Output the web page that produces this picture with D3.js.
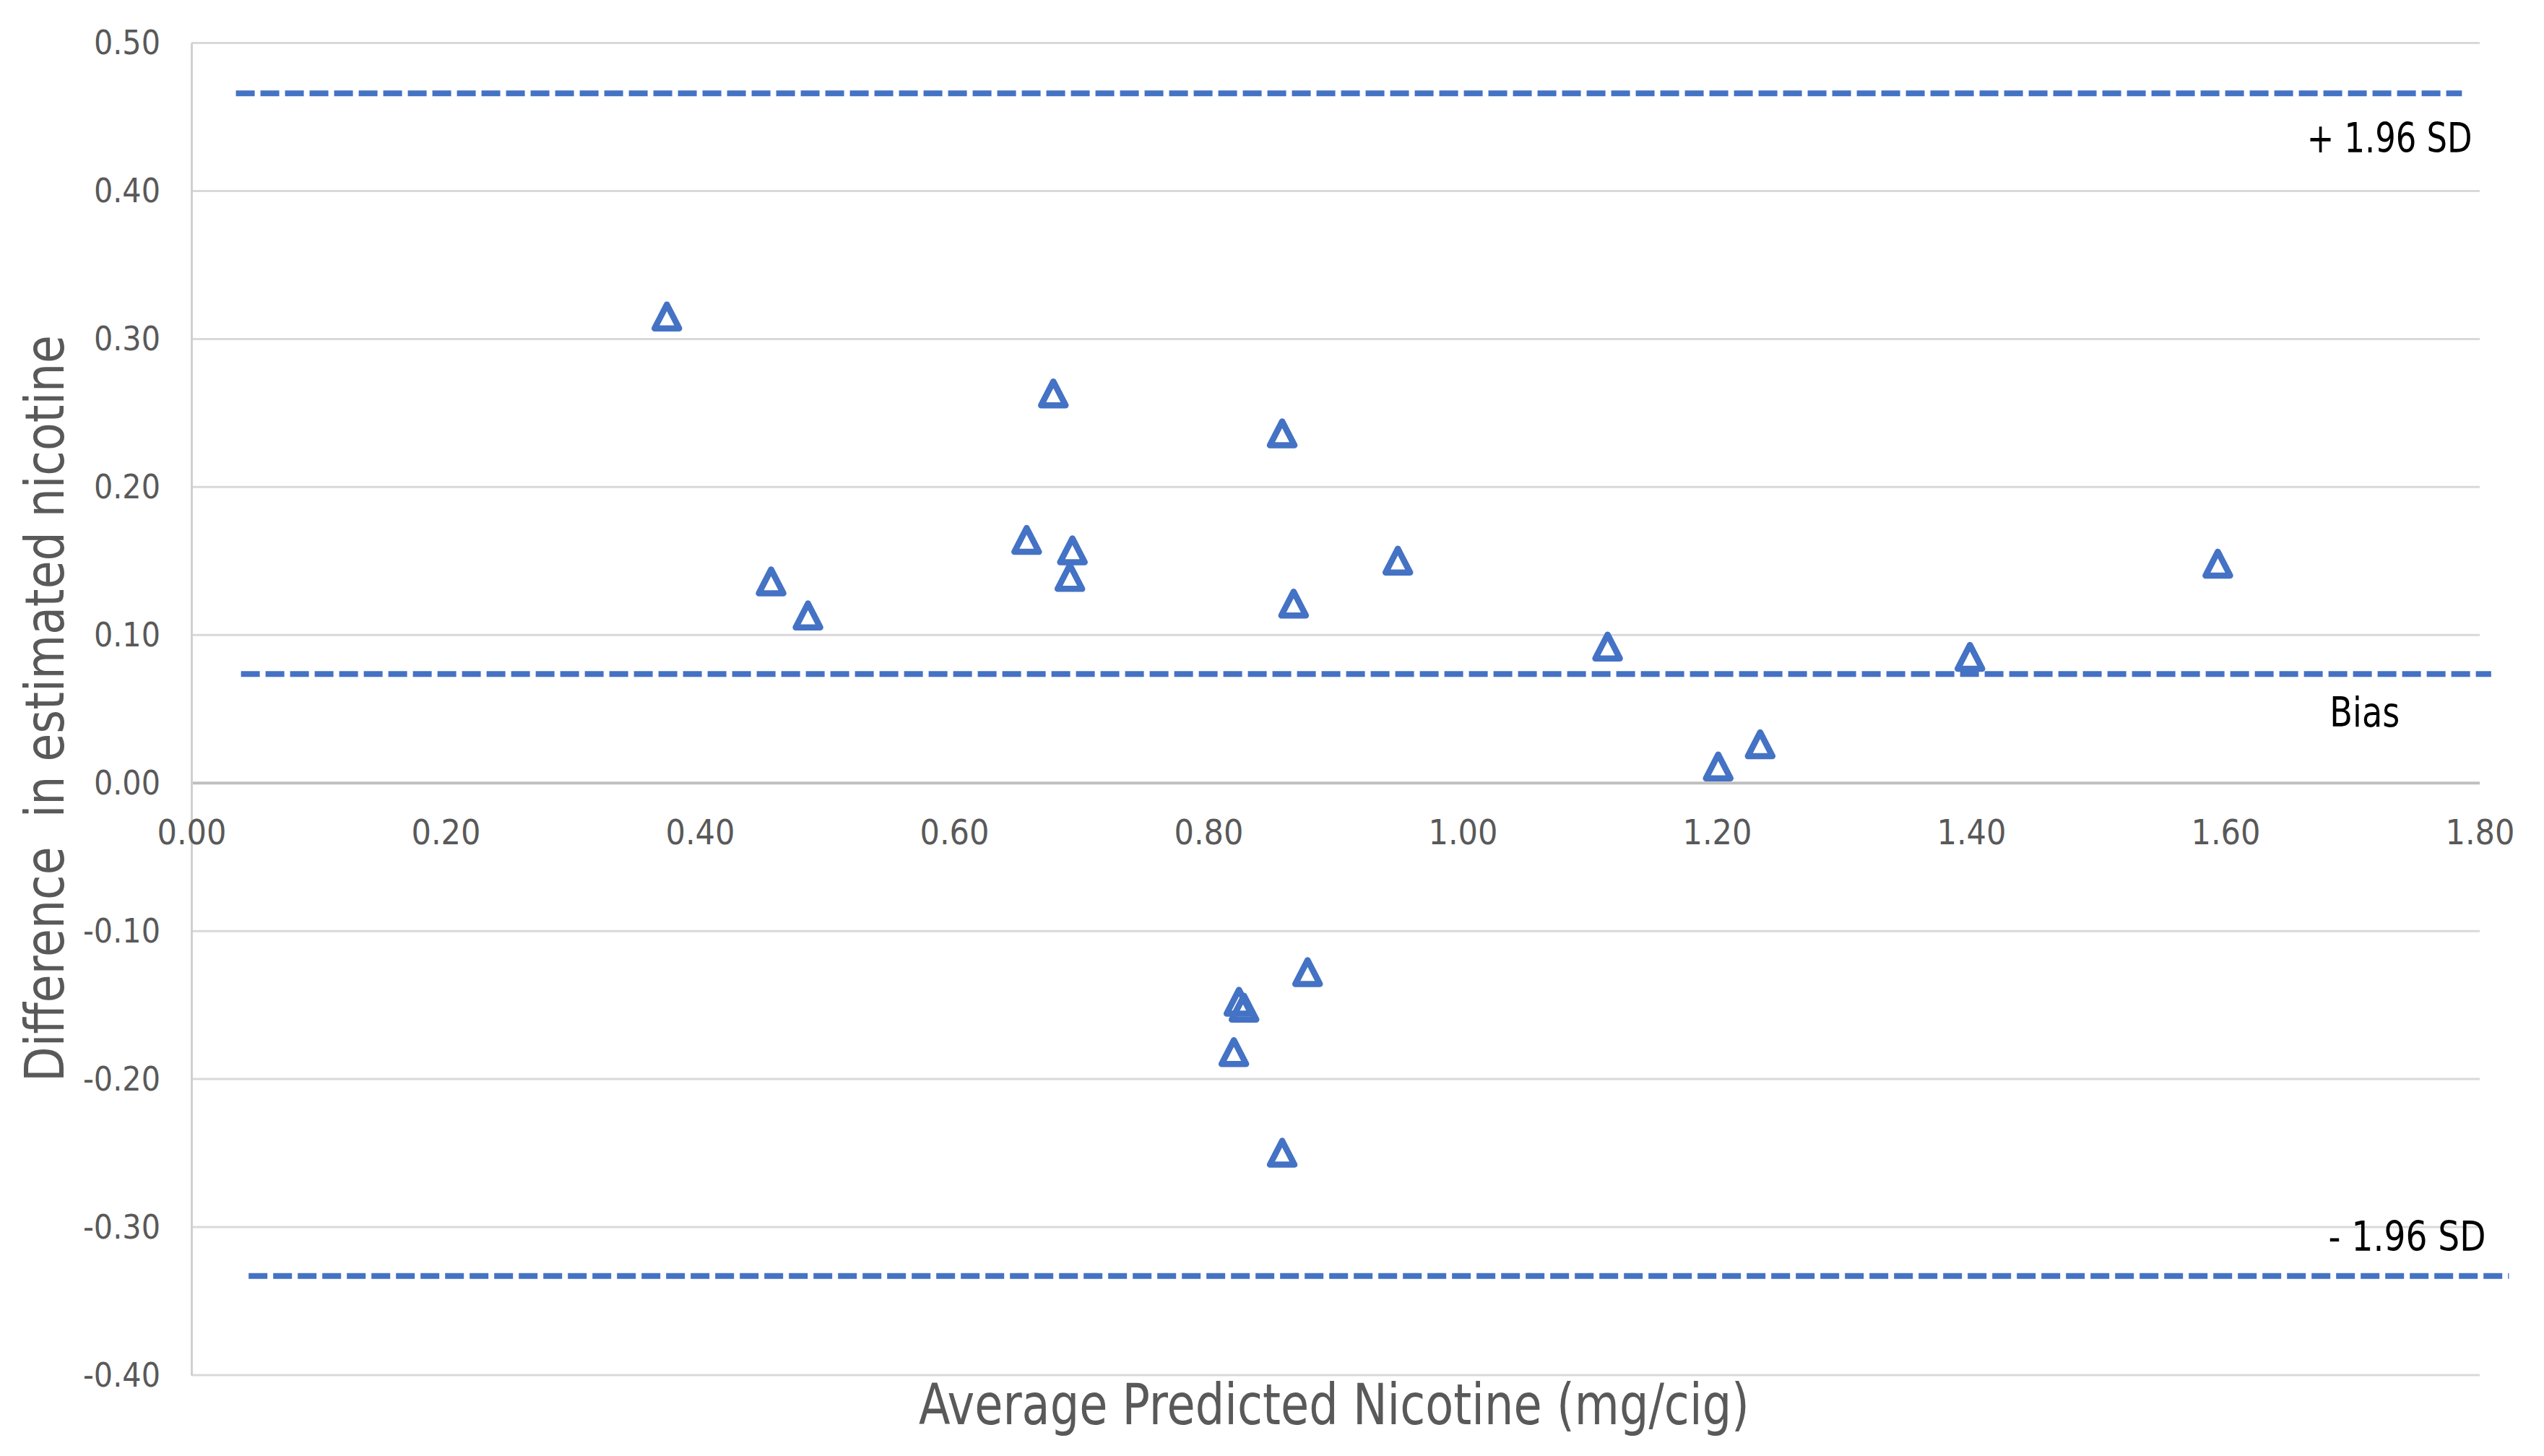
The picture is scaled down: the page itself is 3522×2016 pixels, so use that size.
<!DOCTYPE html>
<html>
<head>
<meta charset="utf-8">
<script src="https://cdn.jsdelivr.net/npm/d3@7"></script>
<style>
  html, body { margin: 0; padding: 0; background: #fff; }
  text { font-family: "Liberation Sans Narrow", "DejaVu Sans Condensed", "Open Sans", sans-serif; }
</style>
</head>
<body>
<svg id="chart" width="3522" height="2016"></svg>
<script>
// points
const avgNicotine = [0.374, 0.456, 0.485, 0.657, 0.678, 0.693, 0.691, 0.858, 0.867, 0.949,
                     1.114, 1.201, 1.234, 1.399, 1.594, 0.878, 0.824, 0.828, 0.820, 0.858]
const diffNicotine = [0.315, 0.136, 0.113, 0.164, 0.263, 0.157, 0.139, 0.236, 0.121, 0.150,
                      0.092, 0.011, 0.026, 0.085, 0.148, -0.128, -0.148, -0.152, -0.182, -0.250]

// limits of agreement (dashed lines)
const limitNames = ["+ 1.96 SD", "Bias", "- 1.96 SD"]
const limitValues = [0.466, 0.0737, -0.333]
const limitStart = [0.035, 0.039, 0.045]
const limitEnd = [1.786, 1.809, 1.823]
// where each label starts, in data units
const limitLabelX = [1.664, 1.682, 1.681]
const limitLabelY = [0.426, 0.038, -0.316]

const xTicks = [0, 0.2, 0.4, 0.6, 0.8, 1.0, 1.2, 1.4, 1.6, 1.8]
const yTicks = [0.5, 0.4, 0.3, 0.2, 0.1, 0, -0.1, -0.2, -0.3, -0.4]

const xTitle = "Average Predicted Nicotine (mg/cig)"
const yTitle = "Difference  in estimated nicotine"

const L = 265, R = 3433, T = 59.5, B = 1904
const blue = "#4472C4"

const svg = d3.select("#chart")
svg.append("rect").attr("width", 3522).attr("height", 2016).attr("fill", "#fff")

const x = d3.scaleLinear().domain([0, 1.8]).range([L, R])
const y = d3.scaleLinear().domain([-0.4, 0.5]).range([B, T])

// gridlines
const grid = svg.append("g")
grid.selectAll("line").data(yTicks).join("line")
  .attr("x1", L).attr("x2", R)
  .attr("y1", d => y(d)).attr("y2", d => y(d))
  .attr("stroke", d => d === 0 ? "#bfbfbf" : "#d9d9d9")
  .attr("stroke-width", d => d === 0 ? 4 : 3)

// y axis
const yAxis = svg.append("g")
  .attr("transform", `translate(${L},0)`)
  .call(d3.axisLeft(y).tickValues(yTicks).tickSize(0).tickFormat(d => d.toFixed(2)))
yAxis.select(".domain").attr("stroke", "#d0d0d0").attr("stroke-width", 3)
yAxis.selectAll("text")
  .attr("x", -43).attr("dy", "0.33em")
  .attr("fill", "#595959").style("font-size", "46px")

// x axis (crosses at zero)
const xAxis = svg.append("g")
  .attr("transform", `translate(0,${y(0)})`)
  .call(d3.axisBottom(x).tickValues(xTicks).tickSize(0).tickFormat(d => d.toFixed(2)))
xAxis.select(".domain").remove()
xAxis.selectAll("text")
  .attr("y", 85).attr("dy", 0)
  .attr("fill", "#595959").style("font-size", "48px")

// dashed limit lines
svg.append("g").selectAll("line").data(limitValues).join("line")
  .attr("x1", (d, i) => x(limitStart[i])).attr("x2", (d, i) => x(limitEnd[i]))
  .attr("y1", d => y(d)).attr("y2", d => y(d))
  .attr("stroke", blue).attr("stroke-width", 8)
  .attr("stroke-dasharray", "26,8")

const labelWidths = [229, 97, 218]
svg.append("g").selectAll("text").data(limitNames).join("text")
  .attr("x", (d, i) => x(limitLabelX[i]))
  .attr("y", (d, i) => y(limitLabelY[i]))
  .attr("fill", "#000")
  .style("font-size", "57px")
  .attr("textLength", (d, i) => labelWidths[i]).attr("lengthAdjust", "spacingAndGlyphs")
  .text(d => d)

// triangle markers
const tri = "M0,-17 L17,16 L-17,16 Z"
svg.append("g").selectAll("path").data(avgNicotine).join("path")
  .attr("transform", (d, i) => `translate(${x(d)},${y(diffNicotine[i])})`)
  .attr("d", tri)
  .attr("fill", "none")
  .attr("stroke", blue)
  .attr("stroke-width", 8.5)
  .attr("stroke-linejoin", "round")

// axis titles
svg.append("text")
  .attr("x", 1847).attr("y", 1972)
  .attr("text-anchor", "middle")
  .attr("fill", "#595959")
  .style("font-size", "78px")
  .attr("textLength", 1150).attr("lengthAdjust", "spacingAndGlyphs")
  .text(xTitle)

svg.append("text")
  .attr("transform", "translate(88,981) rotate(-90)")
  .attr("text-anchor", "middle")
  .attr("fill", "#595959")
  .style("font-size", "75px")
  .style("white-space", "pre")
  .attr("textLength", 1034).attr("lengthAdjust", "spacingAndGlyphs")
  .text(yTitle)
</script>
</body>
</html>
